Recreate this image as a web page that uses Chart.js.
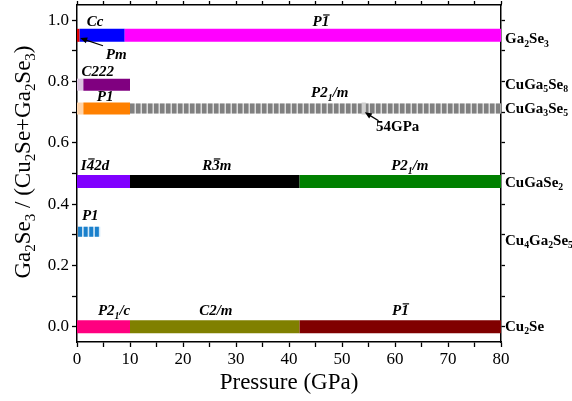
<!DOCTYPE html>
<html>
<head>
<meta charset="utf-8">
<script src="https://cdn.jsdelivr.net/npm/chart.js@4.4.1/dist/chart.umd.min.js"></script>
<style>
  html, body { margin: 0; padding: 0; background: #fff; }
  #wrap { width: 572px; height: 401px; }
</style>
</head>
<body>
<div id="wrap"><canvas id="chart" width="572" height="401"></canvas></div>
<script>
// compounds (rows) and their Ga2Se3 fraction
const compounds = ["Ga_2Se_3", "CuGa_5Se_8", "CuGa_3Se_5", "CuGaSe_2", "Cu_4Ga_2Se_5", "Cu_2Se"];
const ratio = [0.951, 0.79, 0.712, 0.474, 0.31, 0.0];
const nameAt = [0.938, 0.79, 0.71, 0.47, 0.28, 0.0];

// phase segments: row index, pressure range (GPa), colour, dashed?
const segRow  = [0, 0, 0, 1, 1, 2, 2, 2, 2, 3, 3, 3, 4, 5, 5, 5];
const segFrom = [0, 0.5, 9, 0, 1.2, 0, 1.2, 10, 53.7, 0, 10, 42, 0.2, 0, 10, 42];
const segTo   = [0.5, 9, 80, 1.2, 10, 1.2, 10, 80, 54.5, 10, 42, 80, 4.4, 10, 42, 80];
const segColor = ["#e00000", "#0000ff", "#ff00ff", "#dcc4e0", "#800080", "#ffd3a8", "#ff8000",
  "#808080", "#d0d0d0", "#8000ff", "#000000", "#008000", "#1a80cc", "#ff0080", "#808000", "#800000"];
const segDash = [0, 0, 0, 0, 0, 0, 0, 1, 0, 0, 0, 0, 1, 0, 0, 0];

// space group labels
const phaseText = ["Cc", "Pm", "P~1", "C222", "P1", "P2_1/m", "I~42d", "R~3m", "P2_1/m", "P1", "P2_1/c", "C2/m", "P~1"];
const phaseX = [3.4, 7.4, 46, 3.9, 5.3, 47.7, 3.4, 26.4, 62.8, 2.5, 7.0, 26.2, 61];
const phaseY = [0.993, 0.885, 0.993, 0.83, 0.748, 0.762, 0.523, 0.523, 0.523, 0.36, 0.05, 0.05, 0.05];

const xTicks = [0, 10, 20, 30, 40, 50, 60, 70, 80];
const yTicks = [0.0, 0.2, 0.4, 0.6, 0.8, 1.0];

const serif = '"Liberation Serif", "Times New Roman", serif';

function drawRich(ctx, str, x, y, size, style, align) {
  const toks = [];
  for (let i = 0; i < str.length; i++) {
    const c = str[i];
    if (c === "_") toks.push({ t: str[++i], sub: true });
    else if (c === "~") toks.push({ t: str[++i], bar: true });
    else toks.push({ t: c });
  }
  const f = s => style + " " + s + "px " + serif;
  let w = 0;
  toks.forEach(k => {
    ctx.font = f(k.sub ? size * 0.65 : size);
    k.w = ctx.measureText(k.t).width;
    w += k.w;
  });
  let cx = align === "center" ? x - w / 2 : align === "right" ? x - w : x;
  ctx.textAlign = "left";
  ctx.textBaseline = "middle";
  toks.forEach(k => {
    ctx.font = f(k.sub ? size * 0.65 : size);
    ctx.fillText(k.t, cx, k.sub ? y + size * 0.32 : y);
    if (k.bar) {
      ctx.beginPath();
      ctx.lineWidth = 1.2;
      ctx.moveTo(cx + 1.5, y - size * 0.5);
      ctx.lineTo(cx + k.w + 0.5, y - size * 0.5);
      ctx.stroke();
    }
    cx += k.w;
  });
}

function arrow(ctx, x1, y1, x2, y2) {
  const a = Math.atan2(y2 - y1, x2 - x1);
  ctx.beginPath();
  ctx.lineWidth = 1.3;
  ctx.moveTo(x1, y1);
  ctx.lineTo(x2 - 4 * Math.cos(a), y2 - 4 * Math.sin(a));
  ctx.stroke();
  ctx.beginPath();
  ctx.moveTo(x2, y2);
  ctx.lineTo(x2 - 7 * Math.cos(a) + 3 * Math.sin(a), y2 - 7 * Math.sin(a) - 3 * Math.cos(a));
  ctx.lineTo(x2 - 7 * Math.cos(a) - 3 * Math.sin(a), y2 - 7 * Math.sin(a) + 3 * Math.cos(a));
  ctx.closePath();
  ctx.fill();
}

// later datasets get a lower order so they are drawn on top
const datasets = [];
function addSet(ds) {
  ds.order = 100 - datasets.length;
  datasets.push(ds);
}
segRow.forEach((r, i) => {
  const pts = () => [{ x: segFrom[i], y: ratio[r] }, { x: segTo[i], y: ratio[r] }];
  const base = { showLine: true, pointRadius: 0, borderCapStyle: "butt", fill: false };
  if (segDash[i]) {
    const light = r === 4 ? "#d4e8f7" : "#dcdcdc";
    addSet(Object.assign({ data: pts() }, base, { borderColor: light, borderWidth: 10 }));
    addSet(Object.assign({ data: pts() }, base, { borderColor: segColor[i], borderWidth: 10,
      borderDash: r === 4 ? [4, 1.6] : [4.5, 1.5] }));
  } else {
    addSet(Object.assign({ data: pts() }, base, { borderColor: segColor[i], borderWidth: r === 1 || r === 2 ? 12 : 13 }));
  }
});

const annot = {
  id: "annot",
  afterDraw(chart) {
    const ctx = chart.ctx, xs = chart.scales.x, ys = chart.scales.y;
    ctx.save();
    ctx.fillStyle = "#000";
    ctx.strokeStyle = "#000";
    phaseText.forEach((t, i) => {
      drawRich(ctx, t, xs.getPixelForValue(phaseX[i]), ys.getPixelForValue(phaseY[i]), 15, "italic bold", "center");
    });
    drawRich(ctx, "54GPa", xs.getPixelForValue(60.5), ys.getPixelForValue(0.65), 15, "bold", "center");
    arrow(ctx, xs.getPixelForValue(4.9), ys.getPixelForValue(0.917), xs.getPixelForValue(0.6), ys.getPixelForValue(0.942));
    arrow(ctx, xs.getPixelForValue(56.9), ys.getPixelForValue(0.672), xs.getPixelForValue(54.3), ys.getPixelForValue(0.70));
    compounds.forEach((c, i) => {
      drawRich(ctx, c, chart.chartArea.right + 4, ys.getPixelForValue(nameAt[i]), 15, "bold", "left");
    });
    ctx.translate(24, 162);
    ctx.rotate(-Math.PI / 2);
    drawRich(ctx, "Ga_2Se_3 / (Cu_2Se+Ga_2Se_3)", 0, 0, 23, "normal", "center");
    ctx.restore();
  }
};

const tickFont = { family: serif, size: 17 };
const gridOpts = { drawOnChartArea: false, tickLength: 5, tickColor: "#000", tickWidth: 1.3 };
const borderOpts = { color: "#000", width: 1.5 };
const noPad = s => { s.paddingTop = 0; s.paddingBottom = 0; s.paddingLeft = 0; s.paddingRight = 0; };

new Chart(document.getElementById("chart"), {
  type: "scatter",
  data: { datasets },
  options: {
    responsive: false,
    animation: false,
    layout: { padding: 0 },
    plugins: { legend: { display: false }, tooltip: { enabled: false } },
    scales: {
      x: {
        type: "linear", position: "bottom", min: 0, max: 80,
        afterBuildTicks: s => { s.ticks = []; for (let v = 0; v <= 80; v += 5) s.ticks.push({ value: v }); },
        ticks: { font: tickFont, color: "#000", padding: 2, maxRotation: 0,
          callback: v => xTicks.includes(v) ? v : "" },
        grid: gridOpts, border: borderOpts,
        title: { display: true, text: "Pressure (GPa)", font: { family: serif, size: 23 }, color: "#000", padding: { top: 0 } },
        afterFit: s => { s.height = 59; noPad(s); }
      },
      x2: {
        type: "linear", position: "top", min: 0, max: 80,
        afterBuildTicks: s => { s.ticks = []; for (let v = 0; v <= 80; v += 5) s.ticks.push({ value: v }); },
        ticks: { display: false }, grid: Object.assign({}, gridOpts, { tickLength: 4 }), border: borderOpts,
        afterFit: s => { s.height = 5; noPad(s); }
      },
      y: {
        type: "linear", position: "left", min: -0.05, max: 1.05,
        afterBuildTicks: s => { s.ticks = []; for (let i = 0; i <= 10; i++) s.ticks.push({ value: i / 10 }); },
        ticks: { font: tickFont, color: "#000", padding: 3,
          callback: v => yTicks.some(t => Math.abs(t - v) < 1e-6) ? v.toFixed(1) : "" },
        grid: gridOpts, border: borderOpts,
        afterFit: s => { s.width = 77; noPad(s); }
      },
      y2: {
        type: "linear", position: "right", min: -0.05, max: 1.05,
        afterBuildTicks: s => { s.ticks = []; for (let i = 0; i <= 10; i++) s.ticks.push({ value: i / 10 }); },
        ticks: { display: false }, grid: Object.assign({}, gridOpts, { tickLength: 4 }), border: borderOpts,
        afterFit: s => { s.width = 71; noPad(s); }
      }
    }
  },
  plugins: [annot]
});
</script>
</body>
</html>
